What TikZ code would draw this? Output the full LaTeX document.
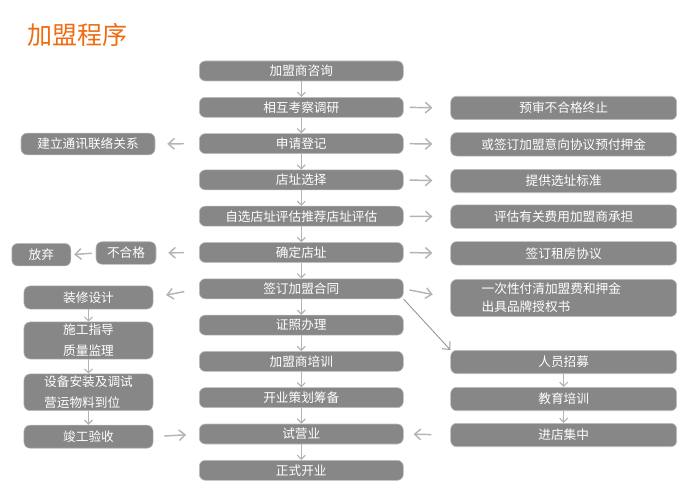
\documentclass[tikz,border=0pt]{standalone}
\usepackage{fontspec}
\newfontfamily\cjk{Noto Sans CJK SC}
\usetikzlibrary{arrows.meta}
\definecolor{boxgray}{HTML}{878787}
\definecolor{arrgray}{HTML}{B4B4B4}
\definecolor{titleorange}{HTML}{EF6C12}
\tikzset{
  box/.style={draw=black!25,line width=0.4pt,fill=boxgray,rounded corners=4.5pt,text=white,font=\cjk\fontsize{9.5}{15.5}\selectfont,align=center,inner sep=0pt},
  mainbox/.style={box,minimum width=153pt,minimum height=15pt},
  sidebox/.style={box,minimum width=169.5pt,minimum height=17.6pt},
  leftbox/.style={box,minimum width=96.8pt,minimum height=17.3pt},
  varr/.style={-{Straight Barb[length=3pt,width=6pt]},draw=arrgray,line width=0.9pt},
  harr/.style={-{Straight Barb[length=4.5pt,width=8pt]},draw=arrgray,line width=1.1pt},
}
\begin{document}
\begin{tikzpicture}[x=0.75pt,y=-0.75pt]
\useasboundingbox (0,0) rectangle (700,503);
\node[text=titleorange,font=\cjk\fontsize{18.75}{20}\selectfont] (title) at (77,35) {加盟程序};
% main column
\foreach \t [count=\i] in {加盟商咨询,相互考察调研,申请登记,店址选择,自选店址评估推荐店址评估,确定店址,签订加盟合同,证照办理,加盟商培训,开业策划筹备,试营业,正式开业}
  \node[mainbox] (c\i) at (301.3,{71+36.3*(\i-1)}) {\t};
\foreach \i in {1,...,11} {
  \pgfmathtruncatemacro\j{\i+1}
  \draw[varr] (c\i) -- (c\j);
}
% right column
\node[sidebox] (r1) at (563.7,108) {预审不合格终止};
\node[sidebox] (r2) at (563.7,144.3) {或签订加盟意向协议预付押金};
\node[sidebox] (r3) at (563.7,181) {提供选址标准};
\node[sidebox] (r4) at (563.7,216.7) {评估有关费用加盟商承担};
\node[sidebox] (r5) at (563.7,253.3) {签订租房协议};
\node[sidebox,minimum height=27.8pt,align=left,text width=123pt,inner xsep=23.25pt,font=\cjk\fontsize{9.5}{13.3}\selectfont] (r6) at (563.7,298) {一次性付清加盟费和押金\\出具品牌授权书};
\node[sidebox] (r7) at (563.7,362) {人员招募};
\node[sidebox] (r8) at (563.7,399) {教育培训};
\node[sidebox] (r9) at (563.7,435) {进店集中};
\foreach \a/\b in {2/1,3/2,4/3,5/4,6/5,7/6}
  \draw[harr,shorten <=4.5pt,shorten >=13.5pt] (c\a.east) -- (r\b.west);
\draw[-{Straight Barb[length=4.5pt,width=8pt]},draw=black!40,line width=0.7pt] (c7.south east) -- (r7.north west);
\draw[varr] (r7) -- (r8);
\draw[varr] (r8) -- (r9);
\draw[harr,shorten <=14.25pt,shorten >=7.5pt] (r9.west) -- (c11.east);
% left column
\node[box,minimum width=100.5pt,minimum height=16.3pt] (l1) at (88,144) {建立通讯联络关系};
\node[box,minimum width=45pt,minimum height=16.9pt] (q1) at (126,253) {不合格};
\node[box,minimum width=44.3pt,minimum height=16.9pt] (q2) at (41.3,254.7) {放弃};
\draw[harr,shorten <=11.25pt,shorten >=9pt] (c3.west) -- (l1.east);
\draw[harr,shorten <=11.25pt,shorten >=9pt] (c6.west) -- (q1.east);
\draw[harr,shorten <=3pt,shorten >=2.25pt] (q1.west) -- (q2.east);
\node[leftbox] (d1) at (88.5,297.5) {装修设计};
\node[leftbox,minimum height=27.8pt] (d2) at (88.5,340.5) {施工指导\\质量监理};
\node[leftbox,minimum height=27.5pt,align=left] (d3) at (88.5,392.3) {设备安装及调试\\营运物料到位};
\node[leftbox] (d4) at (88.5,436.7) {竣工验收};
\draw[varr] (d1) -- (d2);
\draw[varr] (d2) -- (d3);
\draw[varr] (d3) -- (d4);
\draw[harr,shorten <=11.25pt,shorten >=9.75pt] (c7.west) -- (d1.east);
\draw[harr,shorten <=8.25pt,shorten >=9.75pt] (d4.east) -- (c11.west);
\end{tikzpicture}
\end{document}
